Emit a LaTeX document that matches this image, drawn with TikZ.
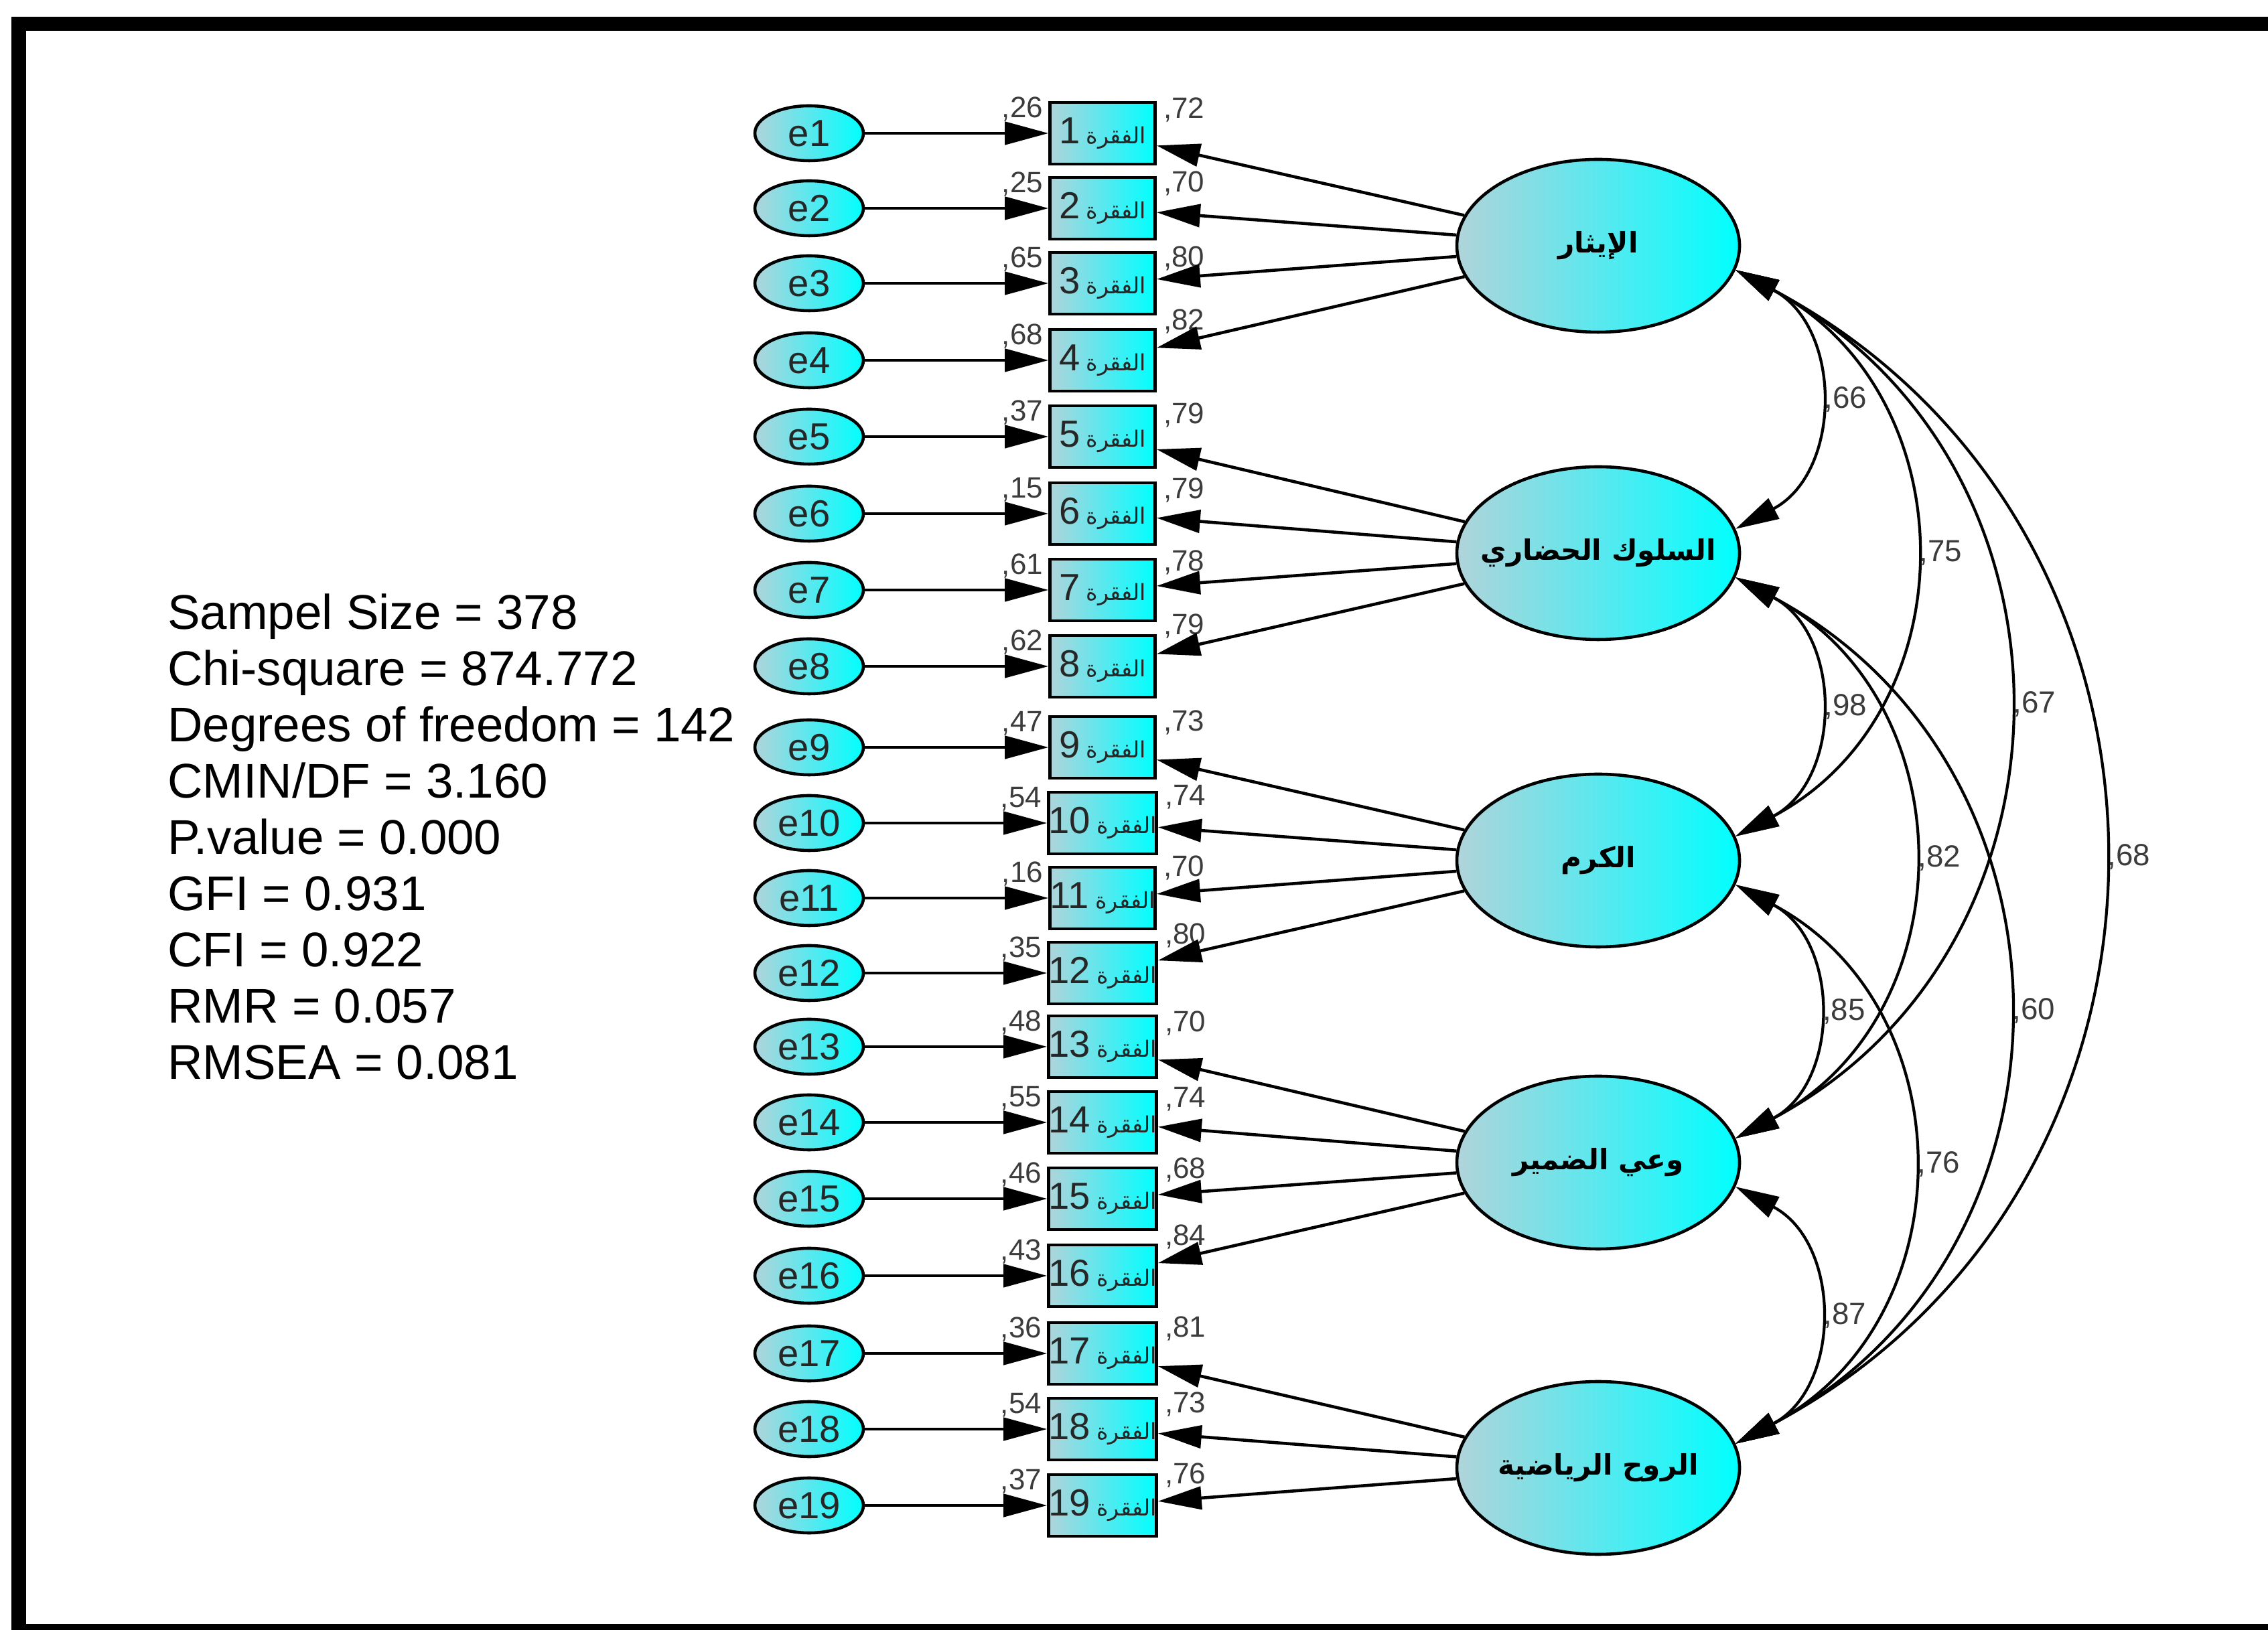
\documentclass[tikz,border=0pt]{standalone}
\usepackage{fontspec}
\setmainfont{Liberation Sans}
\newfontfamily\arabicfont[Script=Arabic]{DejaVu Sans}
\TeXXeTstate=1
\usepackage{xcolor}
\usetikzlibrary{positioning,arrows.meta,shapes.geometric}
\definecolor{pale}{RGB}{176,212,218}
\definecolor{midc}{RGB}{90,232,238}
\definecolor{lbl}{RGB}{60,60,60}
\newcommand{\faqra}[1]{#1\,{\arabicfont\fontsize{9.5}{9.5}\selectfont\beginR الفقرة\endR}}
\newcommand{\latname}[1]{\makebox[0pt]{\beginR #1\endR}}

\begin{document}
\begin{tikzpicture}[>={Triangle[length=6.5mm, width=3.4mm]}, line width=1.3pt,
  err/.style={ellipse, draw, left color=pale, right color=cyan, middle color=midc, minimum width=1.62cm, minimum height=0.82cm, inner sep=0pt, text=black!85, font=\fontsize{16}{16}\selectfont},
  item/.style={draw, rectangle, left color=pale, right color=cyan, middle color=midc, minimum width=1.57cm, minimum height=0.92cm, inner sep=0pt, text=black!85, font=\fontsize{16}{16}\selectfont},
  lat/.style={ellipse, draw, left color=pale, right color=cyan, middle color=midc, minimum width=4.22cm, minimum height=2.58cm, inner sep=0pt, font=\arabicfont\bfseries\fontsize{12}{12}\selectfont},
  wt/.style={font=\fontsize{12.5}{12.5}\selectfont, text=lbl, inner sep=0pt},
  cor/.style={right, font=\fontsize{13}{13}\selectfont, text=lbl, inner sep=3pt},
  corr/.style={<->, line width=1.2pt, out=-28, in=28, looseness=1.2}]
\useasboundingbox (0,0) rectangle (33.86,24.33);
\draw[line width=0.21cm] (0.28,23.97) rectangle (34.2,-0.02);

% fit indices
\node[anchor=west, align=left, inner sep=0pt, font=\fontsize{20.7}{23.9}\selectfont] (stats) at (2.48,11.83)
  {Sampel Size = 378\\Chi-square = 874.772\\Degrees of freedom = 142\\CMIN/DF = 3.160\\P.value = 0.000\\GFI = 0.931\\CFI = 0.922\\RMR = 0.057\\RMSEA = 0.081};

% errors and items
\foreach \n/\y/\r/\l/\d in {1/22.34/26/72/.35, 2/21.22/25/70/.37, 3/20.10/65/80/.37, 4/18.95/68/82/.58,
    5/17.81/37/79/.32, 6/16.66/15/79/.35, 7/15.52/61/78/.41, 8/14.38/62/79/.60,
    9/13.17/47/73/.37, 10/12.04/54/74/.39, 11/10.92/16/70/.45, 12/9.80/35/80/.56,
    13/8.70/48/70/.35, 14/7.57/55/74/.35, 15/6.43/46/68/.43, 16/5.28/43/84/.58,
    17/4.12/36/81/.37, 18/2.99/54/73/.37, 19/1.85/37/76/.45}{
  \node[err] (e\n) at (12.08,\y) {e\n};
  \node[item] (i\n) at (16.46,\y) {\faqra{\n}};
  \draw[->] (e\n) -- (i\n);
  \node[wt, anchor=east] (r\n) at ([xshift=-0.6mm, yshift=-1.2mm]i\n.north west) {,\r};
  \node[wt, anchor=west] (l\n) at ([xshift=0.8mm, yshift=\d cm]i\n.east) {,\l};
}

% factors
\node[lat] (L1) at (23.86,20.66) {\latname{الإيثار}};
\node[lat] (L2) at (23.86,16.07) {\latname{السلوك الحضاري}};
\node[lat] (L3) at (23.86,11.48) {\latname{الكرم}};
\node[lat] (L4) at (23.86,6.97) {\latname{وعي الضمير}};
\node[lat] (L5) at (23.86,2.41) {\latname{الروح الرياضية}};

\foreach \f/\a/\b in {1/1/4, 2/5/8, 3/9/12, 4/13/16, 5/17/19}{
  \foreach \k in {\a,...,\b} \draw[->] (L\f) -- (i\k);
}

% correlations
\draw[corr] (L1.-10) to node[cor] (c12) {,66} (L2.10);
\draw[corr] (L2.-10) to node[cor] (c23) {,98} (L3.10);
\draw[corr] (L3.-10) to node[cor] (c34) {,85} (L4.10);
\draw[corr] (L4.-10) to node[cor] (c45) {,87} (L5.10);
\draw[corr] (L1.-10) to node[cor] (c13) {,75} (L3.10);
\draw[corr] (L2.-10) to node[cor] (c24) {,82} (L4.10);
\draw[corr] (L3.-10) to node[cor] (c35) {,76} (L5.10);
\draw[corr] (L1.-10) to node[cor] (c14) {,67} (L4.10);
\draw[corr] (L2.-10) to node[cor] (c25) {,60} (L5.10);
\draw[corr] (L1.-10) to node[cor] (c15) {,68} (L5.10);
\end{tikzpicture}
\end{document}
